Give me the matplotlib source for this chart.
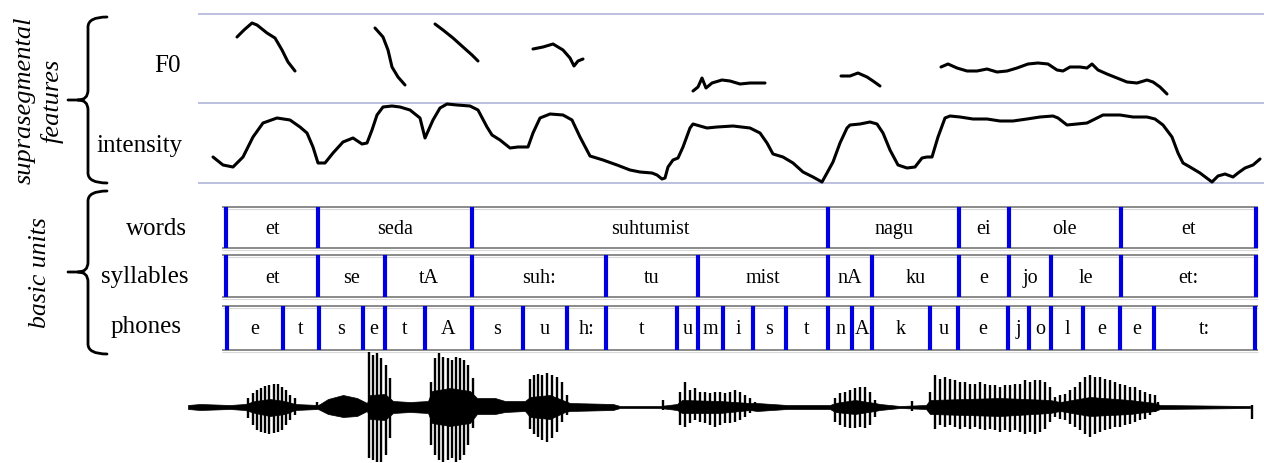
import matplotlib
matplotlib.use("Agg")
import matplotlib.pyplot as plt
from matplotlib.path import Path
from matplotlib.patches import PathPatch

# ---------------- data (x = time in pixel units, y = pixel height) ----------------
f0_x = [
    [237, 244, 252, 257, 267, 275, 282, 288, 295],
    [375, 383, 388, 392, 398, 405],
    [435, 443, 453, 463, 472, 478],
    [533, 543, 553, 563, 570, 574, 578, 583],
    [693, 698, 702, 706, 712, 722, 730, 740, 750, 765],
    [841, 850, 858, 867, 873, 880],
    [941, 948, 957, 967, 977, 987, 997, 1007, 1017, 1028, 1038, 1048, 1057, 1063,
     1070, 1080, 1087, 1092, 1098, 1107, 1117, 1127, 1137, 1147, 1153, 1160, 1167],
]
f0_y = [
    [37, 30, 23, 25, 33, 38, 50, 62, 71],
    [28, 37, 50, 67, 77, 85],
    [24, 30, 38, 47, 55, 61],
    [49, 47, 44, 50, 58, 66, 61, 59],
    [91, 87, 78, 88, 83, 80, 81, 84, 83, 83],
    [76, 76, 73, 77, 81, 86],
    [67, 64, 68, 71, 71, 69, 72, 71, 68, 64, 63, 64, 70, 71,
     67, 67, 68, 64, 70, 74, 78, 82, 83, 80, 82, 87, 94],
]

intensity_x = [213, 223, 233, 243, 253, 263, 277, 290, 300, 307, 313, 318, 325, 333, 343, 353,
               362, 367, 372, 377, 383, 392, 400, 410, 420, 425, 433, 440, 447, 457, 470, 478,
               487, 492, 500, 510, 518, 528, 533, 540, 550, 563, 572, 580, 590, 603, 617, 630,
               640, 652, 657, 662, 665, 668, 673, 678, 683, 690, 693, 700, 707, 717, 733, 750,
               760, 767, 773, 783, 793, 803, 813, 822, 827, 833, 840, 847, 850, 860, 870, 877,
               883, 890, 898, 907, 915, 922, 927, 932, 938, 945, 950, 960, 973, 987, 1000, 1013,
               1027, 1040, 1053, 1058, 1067, 1077, 1087, 1093, 1103, 1120, 1133, 1147, 1155,
               1163, 1172, 1178, 1183, 1190, 1200, 1212, 1218, 1225, 1233, 1238, 1245, 1253, 1260]
intensity_y = [157, 165, 167, 157, 137, 123, 118, 120, 127, 133, 147, 163, 163, 153, 142, 138,
               144, 143, 130, 115, 107, 106, 107, 110, 118, 138, 120, 108, 104, 105, 106, 110,
               127, 135, 140, 148, 147, 147, 133, 118, 114, 115, 120, 137, 156, 160, 165, 170,
               172, 173, 175, 179, 178, 167, 160, 158, 147, 128, 124, 126, 128, 127, 126, 128,
               133, 143, 154, 157, 163, 172, 177, 182, 173, 162, 143, 128, 125, 124, 122, 124,
               133, 150, 165, 168, 167, 158, 157, 157, 137, 118, 116, 117, 119, 119, 121, 121,
               119, 117, 116, 118, 125, 124, 123, 120, 115, 115, 117, 117, 119,
               125, 137, 153, 163, 167, 173, 182, 176, 174, 177, 173, 168, 165, 159]

words = ["et", "seda", "suhtumist", "nagu", "ei", "ole", "et"]
word_bounds = [226, 318, 472, 828, 959, 1009, 1121, 1256]

syllables = ["et", "se", "tA", "suh:", "tu", "mist", "nA", "ku", "e", "jo", "le", "et:"]
syllable_bounds = [226, 318, 385, 472, 606, 698, 828, 872, 959, 1009, 1051, 1121, 1256]

phones = ["e", "t", "s", "e", "t", "A", "s", "u", "h:", "t", "u", "m", "i", "s", "t",
          "n", "A", "k", "u", "e", "j", "o", "l", "e", "e", "t:"]
phone_bounds = [227, 283, 319, 363, 385, 425, 472, 523, 567, 606, 677, 698, 723, 753, 786,
                828, 852, 872, 930, 958, 1008, 1029, 1051, 1083, 1120, 1154, 1255]

tier_labels = ["words", "syllables", "phones"]

# waveform: core envelope (amplitude up / down from zero line)
env_x = [188, 200, 230, 245, 255, 270, 285, 295, 318, 320, 328, 343, 357, 367, 370, 385,
         393, 410, 428, 432, 450, 470, 477, 495, 505, 525, 530, 550, 565, 570, 613, 620,
         660, 677, 682, 720, 750, 757, 787, 830, 835, 855, 875, 880, 900, 926, 930, 1000,
         1050, 1060, 1090, 1130, 1155, 1160, 1250]
env_up = [2, 3, 2, 3, 6, 8, 6, 3, 2, 3, 8, 12, 9, 4, 12, 13,
          6, 5, 6, 16, 19, 16, 9, 9, 6, 6, 10, 12, 6, 4, 3, 1,
          1, 3, 7, 6, 4, 4, 2, 2, 4, 7, 4, 3, 1, 2, 7, 9,
          7, 5, 10, 7, 4, 2, 1]
env_dn = [2, 3, 2, 3, 6, 9, 7, 3, 2, 3, 7, 10, 9, 4, 12, 13,
          6, 5, 6, 16, 19, 16, 7, 7, 5, 4, 10, 12, 5, 4, 3, 1,
          1, 3, 6, 6, 3, 4, 2, 2, 5, 7, 4, 3, 1, 2, 7, 9,
          6, 4, 9, 7, 4, 2, 1]

# waveform: individual glottal pulses (x, amplitude up, amplitude down)
pulse_x = [248, 253, 257, 261, 265, 269, 274, 278, 282, 286, 290, 295, 317,
           369, 373, 377, 381, 386, 390,
           431, 435, 439, 443, 448, 452, 456, 460, 464, 468, 473,
           530, 534, 538, 542, 547, 552, 557, 562, 567, 663,
           680, 685, 690, 695, 700, 705, 710, 715, 720, 725, 730, 735, 740, 745, 750, 755,
           835, 840, 845, 850, 855, 860, 865, 870, 875, 912,
           930, 935, 940, 945, 950, 955, 960, 965, 970, 975, 980, 985, 990, 995, 1000, 1005,
           1010, 1015, 1020, 1025, 1030, 1035, 1040, 1045, 1050, 1055, 1060, 1065, 1070, 1075,
           1080, 1085, 1090, 1095, 1100, 1105, 1110, 1115, 1120, 1125, 1130, 1135, 1140, 1145,
           1150, 1155, 1158, 1252]
pulse_up = [9, 14, 17, 19, 21, 22, 23, 23, 20, 17, 12, 9, 5,
            55, 52, 54, 49, 42, 29,
            25, 49, 54, 50, 49, 47, 50, 49, 47, 42, 29,
            28, 32, 33, 32, 34, 32, 30, 25, 12, 7,
            15, 25, 17, 19, 15, 15, 14, 15, 15, 14, 15, 17, 15, 12, 9, 5,
            9, 14, 15, 17, 19, 20, 20, 15, 7, 6,
            15, 32, 28, 30, 28, 27, 25, 25, 23, 23, 25, 23, 22, 22, 20, 22,
            22, 23, 23, 27, 25, 27, 27, 25, 20, 10, 12, 13, 17, 20,
            25, 30, 32, 30, 30, 28, 27, 25, 23, 22, 20, 20, 17, 15,
            13, 12, 5, 2]
pulse_dn = [11, 18, 23, 25, 26, 27, 26, 25, 23, 18, 13, 8, 2,
            51, 53, 55, 55, 48, 31,
            38, 48, 53, 55, 53, 51, 55, 53, 48, 38, 21,
            22, 27, 30, 33, 35, 31, 25, 15, 8, 3,
            18, 20, 16, 13, 15, 16, 18, 20, 18, 16, 16, 15, 13, 10, 6, 3,
            15, 18, 20, 21, 21, 20, 21, 18, 10, 4,
            5, 22, 18, 20, 18, 20, 22, 20, 22, 20, 22, 23, 22, 23, 25, 23,
            25, 23, 25, 27, 25, 27, 25, 22, 15, 10, 12, 13, 17, 20,
            23, 27, 30, 27, 25, 23, 22, 20, 20, 18, 17, 15, 13, 12,
            8, 5, 3, 12]

# ---------------- drawing ----------------
W, H = 1264, 463
fig = plt.figure(figsize=(W / 100, H / 100), dpi=100)
ax = fig.add_axes([0, 0, 1, 1])
ax.set_xlim(0, W)
ax.set_ylim(H, 0)
ax.axis("off")

SERIF = ["Liberation Serif", "DejaVu Serif"]
BLUE = "#0000dc"

# suprasegmental panel separators
ax.hlines([14, 103, 183], 198, W, color="#a9aed6", lw=1.1)

for xs, ys in zip(f0_x, f0_y):
    ax.plot(xs, ys, color="black", lw=2.2, solid_capstyle="round", solid_joinstyle="round")
ax.plot(intensity_x, intensity_y, color="black", lw=2.2,
        solid_capstyle="round", solid_joinstyle="round")

ax.text(167, 72, "F0", family=SERIF, fontsize=18, ha="center", va="baseline")
ax.text(140, 152, "intensity", family=SERIF, fontsize=18, ha="center", va="baseline")

# tiers
tier_top = [207, 255, 306]
tier_bot = [248, 297, 350]
tier_base = [234, 283, 334]
label_x = [156, 145, 146]
label_base = [235, 283, 333]
tiers = [(words, word_bounds), (syllables, syllable_bounds), (phones, phone_bounds)]
for i, (labs, bnds) in enumerate(tiers):
    ax.hlines([tier_top[i], tier_bot[i]], 222, 1258, color="#8a8a8a", lw=1.4)
    ax.hlines([tier_top[i] + 1.5, tier_bot[i] + 1.5], 222, 1258, color="#d8d8d8", lw=0.8)
    ax.vlines(bnds, tier_top[i], tier_bot[i], color=BLUE, lw=3.0)
    for j, lab in enumerate(labs):
        ax.text((bnds[j] + bnds[j + 1]) / 2, tier_base[i], lab, family=SERIF,
                fontsize=14.5, ha="center", va="baseline")
    ax.text(label_x[i], label_base[i], tier_labels[i], family=SERIF, fontsize=18,
            ha="center", va="baseline")

# braces
def brace(xv, y0, y1, ym, xt, xh, r=10):
    verts = [(xh, y0), (xv, y0), (xv, y0 + r), (xv, ym - r), (xv, ym), (xv - r, ym),
             (xt, ym), (xv - r, ym), (xv, ym), (xv, ym + r), (xv, y1 - r), (xv, y1), (xh, y1)]
    codes = [Path.MOVETO, Path.CURVE3, Path.CURVE3, Path.LINETO, Path.CURVE3, Path.CURVE3,
             Path.LINETO, Path.MOVETO, Path.CURVE3, Path.CURVE3, Path.LINETO, Path.CURVE3,
             Path.CURVE3]
    ax.add_patch(PathPatch(Path(verts, codes), fill=False, lw=2.0, color="black",
                           capstyle="round", joinstyle="round"))

brace(88, 17, 183, 100, 68, 107)
brace(88, 191, 354, 272, 68, 107)

ax.text(25, 100, "suprasegmental", family=SERIF, style="italic", fontsize=19,
        rotation=90, ha="center", va="center")
ax.text(52, 101, "features", family=SERIF, style="italic", fontsize=19,
        rotation=90, ha="center", va="center")
ax.text(40, 273, "basic units", family=SERIF, style="italic", fontsize=18.5,
        rotation=90, ha="center", va="center")

# waveform
BASE = 407
ax.fill_between(env_x, [BASE - u for u in env_up], [BASE + d for d in env_dn],
                color="black", lw=0.5)
ax.vlines(pulse_x, [BASE - u for u in pulse_up], [BASE + d for d in pulse_dn],
          color="black", lw=1.7)

fig.savefig("out.png", dpi=100)
